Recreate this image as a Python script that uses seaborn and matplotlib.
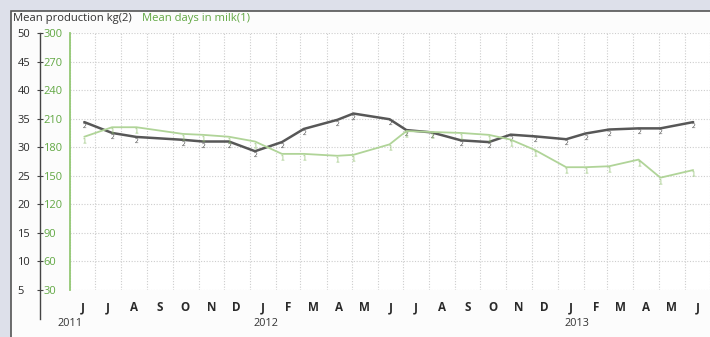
import numpy as np
import pandas as pd
import matplotlib
matplotlib.use("Agg")
import matplotlib.pyplot as plt
import matplotlib.dates as mdates
import seaborn as sns
from matplotlib.patches import Rectangle
from matplotlib.textpath import TextPath
from matplotlib.font_manager import FontProperties
from matplotlib.path import Path

# test dates and values
sample_dates = ['2011-06-18', '2011-07-21', '2011-08-19', '2011-10-13', '2011-11-06',
                '2011-12-07', '2012-01-07', '2012-02-08', '2012-03-05', '2012-04-14',
                '2012-05-03', '2012-06-15', '2012-07-05', '2012-08-04', '2012-09-08',
                '2012-10-11', '2012-11-06', '2012-12-05', '2013-01-11', '2013-02-03',
                '2013-03-03', '2013-04-07', '2013-05-03', '2013-06-11']
production_kg = [34.4, 32.5, 31.8, 31.3, 31.0, 31.0, 29.3, 30.9, 33.2, 34.8, 35.9, 34.9,
                 33.0, 32.6, 31.2, 30.9, 32.2, 31.9, 31.4, 32.4, 33.1, 33.3, 33.3, 34.4]
days_in_milk = [191, 201, 201, 194, 193, 191, 186, 173, 173, 171, 172, 183,
                197, 196, 195, 193, 188, 177, 159, 159, 160, 167, 148, 156]

prod_ticks = [5, 10, 15, 20, 25, 30, 35, 40, 45, 50]
dim_ticks = [30, 60, 90, 120, 150, 180, 210, 240, 270, 300]
years = [('2011', '2011-06-01'), ('2012', '2012-01-20'), ('2013', '2013-01-24')]

df = pd.DataFrame({'date': pd.to_datetime(sample_dates),
                   'production': production_kg,
                   'dim': days_in_milk})

sns.set_style("white")
plt.rcParams['font.family'] = ['Open Sans', 'DejaVu Sans']

GRAY = '#575757'
GREEN_LINE = '#b0d498'
GREEN_TXT = '#62a844'
GREEN_AX = '#93c874'


def num_marker(ch):
    # the digit hangs just under the data point
    tp = TextPath((0, 0), ch, size=1, prop=FontProperties(family='DejaVu Sans'))
    v = tp.vertices.copy()
    v[:, 0] -= (v[:, 0].min() + v[:, 0].max()) / 2
    v[:, 1] -= v[:, 1].max() + 0.12
    return Path(v, tp.codes)


W, H = 710, 337
fig = plt.figure(figsize=(W / 100, H / 100), dpi=100)
fig.patch.set_facecolor('#dde0ea')
fig.patches.append(Rectangle((11 / W, -0.1), 1.2, (H - 11) / H + 0.1,
                             transform=fig.transFigure, fc='#fcfcfc',
                             ec='#555555', lw=1.2, zorder=-5))

ax = fig.add_axes([70 / W, (H - 290) / H, 640 / W, 257 / H])
ax.set_facecolor('white')
ax2 = ax.twinx()
ax2.patch.set_visible(False)

sns.lineplot(data=df, x='date', y='production', ax=ax, color=GRAY, lw=1.8,
             marker=num_marker('2'), markersize=8, mfc=GRAY, mec=GRAY, mew=0, zorder=4)
sns.lineplot(data=df, x='date', y='dim', ax=ax2, color=GREEN_LINE, lw=1.3,
             marker=num_marker('1'), markersize=8.5, mfc='#8fbf6e', mec='#8fbf6e', mew=0)

ax.set_ylim(5, 50)
ax2.set_ylim(30, 300)
x0 = pd.Timestamp('2011-06-01')
ax.set_xlim(x0, x0 + pd.Timedelta(days=748))

# months
starts = pd.date_range('2011-06-01', '2013-07-01', freq='MS')
mids = starts[:-1] + pd.Timedelta(days=15)
ax.set_xticks(mids)
ax.set_xticklabels([d.strftime('%b')[0] for d in mids], fontsize=8.4,
                   fontweight='bold', color='#2a2a2a')
ax.set_xticks(starts, minor=True)
ax.tick_params(axis='x', which='major', length=0, pad=8)
ax.tick_params(axis='x', which='minor', length=4, color='#dcdcdc', width=0.8)
ax.grid(which='minor', axis='x', color='#cdcdcd', lw=0.8, ls=(0, (1, 1.5)))
ax.grid(which='major', axis='y', color='#cdcdcd', lw=0.8, ls=(0, (1, 1.5)))
ax.grid(which='major', axis='x', visible=False)
ax.set_xlabel('')
ax.set_ylabel('')
ax2.set_ylabel('')

for s in ['top', 'right', 'bottom']:
    ax.spines[s].set_visible(False)
    ax2.spines[s].set_visible(False)

# production axis, pushed out to the left
ax.set_yticks(prod_ticks)
ax.spines['left'].set_position(('outward', 21.6))
ax.spines['left'].set_bounds(0, 50)
ax.spines['left'].set_color('#444444')
ax.spines['left'].set_linewidth(1.0)
ax.tick_params(axis='y', direction='inout', length=4, width=0.8, color='#444444',
               labelsize=8, labelcolor='#2a2a2a', pad=14.2)
for t in ax.get_yticklabels():
    t.set_horizontalalignment('left')

# days in milk axis, on the plot edge
ax2.yaxis.set_ticks_position('left')
ax2.yaxis.set_label_position('left')
ax2.set_yticks(dim_ticks)
ax2.spines['left'].set_visible(True)
ax2.spines['left'].set_color(GREEN_AX)
ax2.spines['left'].set_linewidth(1.3)
ax2.tick_params(axis='y', which='both', left=True, right=False, labelleft=True,
                labelright=False, length=0, labelsize=8, labelcolor=GREEN_TXT, pad=19.4)
for t in ax2.get_yticklabels():
    t.set_horizontalalignment('left')

trans = ax.get_xaxis_transform()
for label, d in years:
    ax.text(mdates.date2num(pd.Timestamp(d)), -0.132, label, transform=trans,
            ha='center', va='center', fontsize=7.8, color='#333333')

fig.text(13 / W, 1 - 18 / H, 'Mean production kg(2)', va='center', ha='left',
         fontsize=8.1, color='#333333')
fig.text(142 / W, 1 - 18 / H, 'Mean days in milk(1)', va='center', ha='left',
         fontsize=8.1, color=GREEN_TXT)

fig.savefig('out.png', dpi=100, facecolor=fig.get_facecolor())
